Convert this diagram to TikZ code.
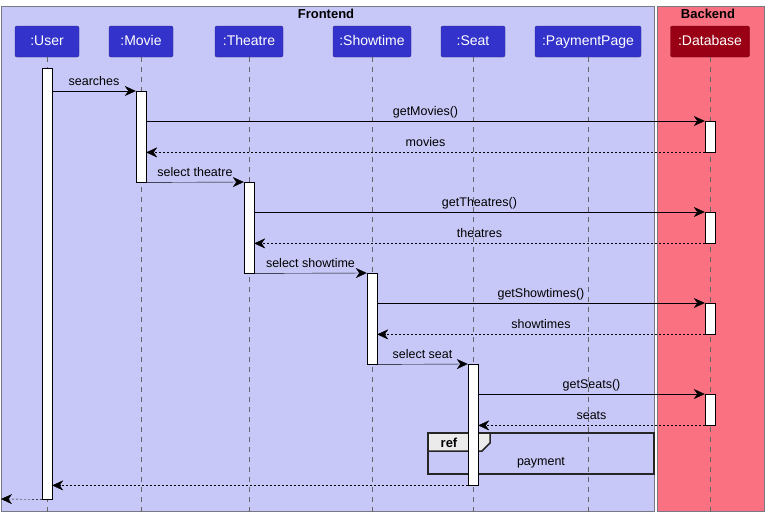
\documentclass[tikz,border=0pt]{standalone}
\usepackage{fontspec}
\setmainfont{Liberation Sans}
\usetikzlibrary{arrows.meta}

\definecolor{front}{RGB}{200,200,248}
\definecolor{back}{RGB}{250,114,130}
\definecolor{partblue}{RGB}{51,51,204}
\definecolor{partred}{RGB}{153,0,22}
\definecolor{framegray}{RGB}{120,120,135}

\tikzset{Part/.style={draw=partblue!70!black,fill=partblue,rounded corners=2pt,text=white,minimum height=31pt,inner sep=0pt,text height=10pt,text depth=3pt,font=\fontsize{14}{16}\selectfont}}
\tikzset{Box/.style={draw=framegray,line width=0.8pt}}
\tikzset{Title/.style={font=\fontsize{13}{15}\selectfont\bfseries}}
\tikzset{Life/.style={draw=black!60,dash pattern=on 5pt off 5pt}}
\tikzset{Act/.style={draw,black,fill=white,minimum width=10pt,inner sep=0pt,anchor=north,rectangle}}
\tikzset{Msg/.style={-{Stealth[length=11pt,width=10pt,inset=3.5pt]},black}}
\tikzset{Ret/.style={Msg,dash pattern=on 2pt off 2pt}}
\tikzset{Lbl/.style={above,inner sep=3pt,text height=9pt,text depth=2.5pt,font=\fontsize{12.5}{15}\selectfont}}

\begin{document}
\begin{tikzpicture}[x=1pt,y=-1pt]

\useasboundingbox (0,0) rectangle (769,523);

% groupes
\draw[Box,fill=front] (1,6) rectangle (654,511);
\draw[Box,fill=back] (657,6) rectangle (764,511);
\node[Title] (fe) at (326,14) {Frontend};
\node[Title] (be) at (708,14) {Backend};

% participants
\node[Part,minimum width=64pt] (user) at (47,41.5) {:User};
\node[Part,minimum width=64pt] (movie) at (141,41.5) {:Movie};
\node[Part,minimum width=68pt] (theatre) at (249,41.5) {:Theatre};
\node[Part,minimum width=78pt] (showtime) at (372,41.5) {:Showtime};
\node[Part,minimum width=64pt] (seat) at (473,41.5) {:Seat};
\node[Part,minimum width=106pt] (pay) at (588,41.5) {:PaymentPage};
\node[Part,minimum width=79pt,fill=partred,draw=partred!70!black] (db) at (710,41.5) {:Database};

% lignes de vie
\coordinate (bot) at (0,513);
\draw[Life] (user.south) -- (user.south |- bot);
\draw[Life] (movie.south) -- (movie.south |- bot);
\draw[Life] (theatre.south) -- (theatre.south |- bot);
\draw[Life] (showtime.south) -- (showtime.south |- bot);
\draw[Life] (seat.south) -- (seat.south |- bot);
\draw[Life] (pay.south) -- (pay.south |- bot);
\draw[Life] (db.south) -- (db.south |- bot);

% ref
\draw[black!85,line width=1.5pt] (428,433) rectangle (654,474);
\draw[black!85,line width=1.5pt,fill=black!8] (428,433) -- (490,433) -- (490,443) -- (482,451) -- (428,451) -- cycle;
\node[Title] (ref) at (449,443) {ref};
\node[font=\fontsize{12.5}{15}\selectfont] (payment) at (541,463) {payment};

% activations
\node[Act,minimum height=431pt] (userA) at (47,68) {};
\node[Act,minimum height=91pt] (movieA) at (141,91) {};
\node[Act,minimum height=91pt] (theatreA) at (249,182) {};
\node[Act,minimum height=91pt] (showtimeA) at (372,273) {};
\node[Act,minimum height=121pt] (seatA) at (473,364) {};
\node[Act,minimum height=31pt] (dbA) at (710,121) {};
\node[Act,minimum height=31pt] (dbB) at (710,212) {};
\node[Act,minimum height=31pt] (dbC) at (710,303) {};
\node[Act,minimum height=31pt] (dbD) at (710,394) {};

% messages
\draw[Msg] (userA.east |- movieA.north) -- (movieA.north west) node[Lbl,midway] {searches};
\draw[Msg] (movieA.east |- dbA.north) -- (dbA.north west) node[Lbl,midway] {getMovies()};
\draw[Ret] (dbA.south west) -- (movieA.east |- dbA.south) node[Lbl,midway] {movies};
\draw[Msg] (movieA.south east) -- (theatreA.north west) node[Lbl,midway] {select theatre};
\draw[Msg] (theatreA.east |- dbB.north) -- (dbB.north west) node[Lbl,midway] {getTheatres()};
\draw[Ret] (dbB.south west) -- (theatreA.east |- dbB.south) node[Lbl,midway] {theatres};
\draw[Msg] (theatreA.south east) -- (showtimeA.north west) node[Lbl,midway] {select showtime};
\draw[Msg] (showtimeA.east |- dbC.north) -- (dbC.north west) node[Lbl,midway] {getShowtimes()};
\draw[Ret] (dbC.south west) -- (showtimeA.east |- dbC.south) node[Lbl,midway] {showtimes};
\draw[Msg] (showtimeA.south east) -- (seatA.north west) node[Lbl,midway] {select seat};
\draw[Msg] (seatA.east |- dbD.north) -- (dbD.north west) node[Lbl,midway] {getSeats()};
\draw[Ret] (dbD.south west) -- (seatA.east |- dbD.south) node[Lbl,midway] {seats};
\draw[Ret] (seatA.south west) -- (userA.east |- seatA.south);
\coordinate (out) at (1,499);
\draw[Ret] (userA.south west) -- (out);

\end{tikzpicture}
\end{document}
